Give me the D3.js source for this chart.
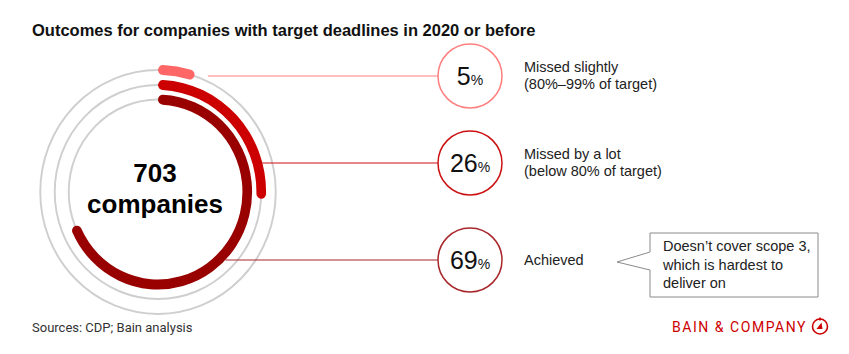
<!DOCTYPE html>
<html>
<head>
<meta charset="utf-8">
<script src="https://cdn.jsdelivr.net/npm/d3@7"></script>
<style>
  body { margin: 0; background: #fff; }
  svg { display: block; font-family: "Liberation Sans", Arial, sans-serif; }
</style>
</head>
<body>
<div id="chart-area"></div>
<script>

// DATA

var categories = ["Missed slightly", "Missed by a lot", "Achieved"];
var subLabels = ["(80%\u201399% of target)", "(below 80% of target)", ""];
var shares = [5, 26, 69];
var totalCompanies = 703;
var colors = ["#ff6666", "#cc0000", "#990000"];
var bubbleStroke = ["#ff7f7f", "#cc1111", "#a8262a"];
var noteLines = ["Doesn\u2019t cover scope 3,", "which is hardest to", "deliver on"];


// CHART AREA

var width = 849, height = 354;

var svg = d3.select("#chart-area").append("svg")
    .attr("width", width)
    .attr("height", height);

var cx = 158, cy = 192, sx = 0.965;   // the source graphic is slightly squeezed horizontally
var ringR = [122, 107, 92.5];
var thick = 10;
var bubbleX = 470, bubbleR = 32;
var bubbleY = [76, 163, 260];
var labelX = 524;

// angle scale: percent -> radians (clockwise from top)
var angle = d3.scaleLinear().domain([0, 100]).range([0, 2 * Math.PI]);

svg.append("text")
    .attr("x", 32).attr("y", 36)
    .style("font-size", "16.5px")
    .style("font-weight", "bold")
    .style("fill", "#111")
    .text("Outcomes for companies with target deadlines in 2020 or before");

var rings = svg.append("g")
    .attr("transform", "translate(" + cx + "," + cy + ") scale(" + sx + ",1)");

// gray tracks
rings.selectAll(".track")
    .data(shares)
    .enter().append("circle")
    .attr("class", "track")
    .attr("r", function(d, i) { return ringR[i]; })
    .attr("fill", "none")
    .attr("stroke", "#cfcfcf")
    .attr("stroke-width", 2);

// coloured arcs
var arc = d3.arc()
    .startAngle(0)
    .endAngle(function(d) { return angle(d.v); })
    .innerRadius(function(d) { return d.r - thick / 2; })
    .outerRadius(function(d) { return d.r + thick / 2; })
    .cornerRadius(thick / 2);

rings.selectAll(".arc")
    .data(shares.map(function(v, i) { return {v: v, r: ringR[i], c: colors[i]}; }))
    .enter().append("path")
    .attr("class", "arc")
    .attr("d", arc)
    .attr("fill", function(d) { return d.c; });

// centre text
var centre = svg.append("g").attr("transform", "translate(155," + cy + ")");
centre.append("text")
    .attr("text-anchor", "middle")
    .attr("y", -10)
    .style("font-size", "26px").style("font-weight", "bold")
    .text(totalCompanies);
centre.append("text")
    .attr("text-anchor", "middle")
    .attr("y", 21)
    .style("font-size", "26px").style("font-weight", "bold")
    .text("companies");

// leader lines: start where the horizontal meets the arc's outer edge
shares.forEach(function(v, i) {
    var dy = bubbleY[i] - cy;
    var ro = ringR[i] + thick / 2;
    var x0 = cx + sx * Math.sqrt(Math.max(0, ro * ro - dy * dy));
    svg.append("line")
        .attr("x1", x0).attr("x2", bubbleX - bubbleR)
        .attr("y1", bubbleY[i]).attr("y2", bubbleY[i])
        .attr("stroke", bubbleStroke[i])
        .attr("stroke-width", 1.2);
});

// bubbles
var bubbles = svg.selectAll(".bubble")
    .data(shares)
    .enter().append("g")
    .attr("class", "bubble")
    .attr("transform", function(d, i) { return "translate(" + bubbleX + "," + bubbleY[i] + ")"; });

bubbles.append("circle")
    .attr("r", bubbleR)
    .attr("fill", "#fff")
    .attr("stroke", function(d, i) { return bubbleStroke[i]; })
    .attr("stroke-width", 1.5);

var pct = bubbles.append("text")
    .attr("text-anchor", "middle")
    .attr("y", 9)
    .style("fill", "#111");
pct.append("tspan").style("font-size", "25px").text(function(d) { return d; });
pct.append("tspan").style("font-size", "14px").text("%");

// category labels
shares.forEach(function(v, i) {
    var t = svg.append("text")
        .attr("x", labelX)
        .attr("y", subLabels[i] ? bubbleY[i] - 4 : bubbleY[i] + 5)
        .style("font-size", "14.5px")
        .style("fill", "#222");
    t.append("tspan").attr("x", labelX).text(categories[i]);
    if (subLabels[i]) t.append("tspan").attr("x", labelX).attr("dy", 17).text(subLabels[i]);
});

// callout
var bx = 650, by = 233, bw = 168, bh = 64;
svg.append("path")
    .attr("d", "M" + bx + "," + by + "H" + (bx + bw) + "V" + (by + bh) + "H" + bx +
               "V270L617,262L" + bx + ",252Z")
    .attr("fill", "#fff")
    .attr("stroke", "#8a8a8a")
    .attr("stroke-width", 1);

svg.append("text")
    .attr("x", 663).attr("y", 251)
    .style("font-size", "14.5px").style("fill", "#222")
    .selectAll("tspan")
    .data(noteLines)
    .enter().append("tspan")
    .attr("x", 663)
    .attr("dy", function(d, i) { return i ? 18.5 : 0; })
    .text(function(d) { return d; });

// footer
svg.append("text")
    .attr("x", 32).attr("y", 332)
    .style("font-size", "13px").style("fill", "#333")
    .style("font-family", "Roboto, sans-serif")
    .text("Sources: CDP; Bain analysis");

svg.append("text")
    .attr("x", 672).attr("y", 332)
    .attr("textLength", 134)
    .style("font-size", "14px").style("fill", "#cc0000")
    .style("font-family", "Roboto, sans-serif")
    .style("letter-spacing", "0.5px")
    .text("BAIN & COMPANY");

var logo = svg.append("g").attr("transform", "translate(820,326.5)");
logo.append("circle").attr("r", 7.5).attr("fill", "none")
    .attr("stroke", "#cc0000").attr("stroke-width", 1.6);
logo.append("path").attr("d", "M-3.5,2.5L2.5,2.5L1.5,-4Z").attr("fill", "#cc0000");
logo.append("line").attr("x1", 0).attr("x2", 0).attr("y1", -9).attr("y2", -6)
    .attr("stroke", "#cc0000").attr("stroke-width", 1.6);

</script>
</body>
</html>
